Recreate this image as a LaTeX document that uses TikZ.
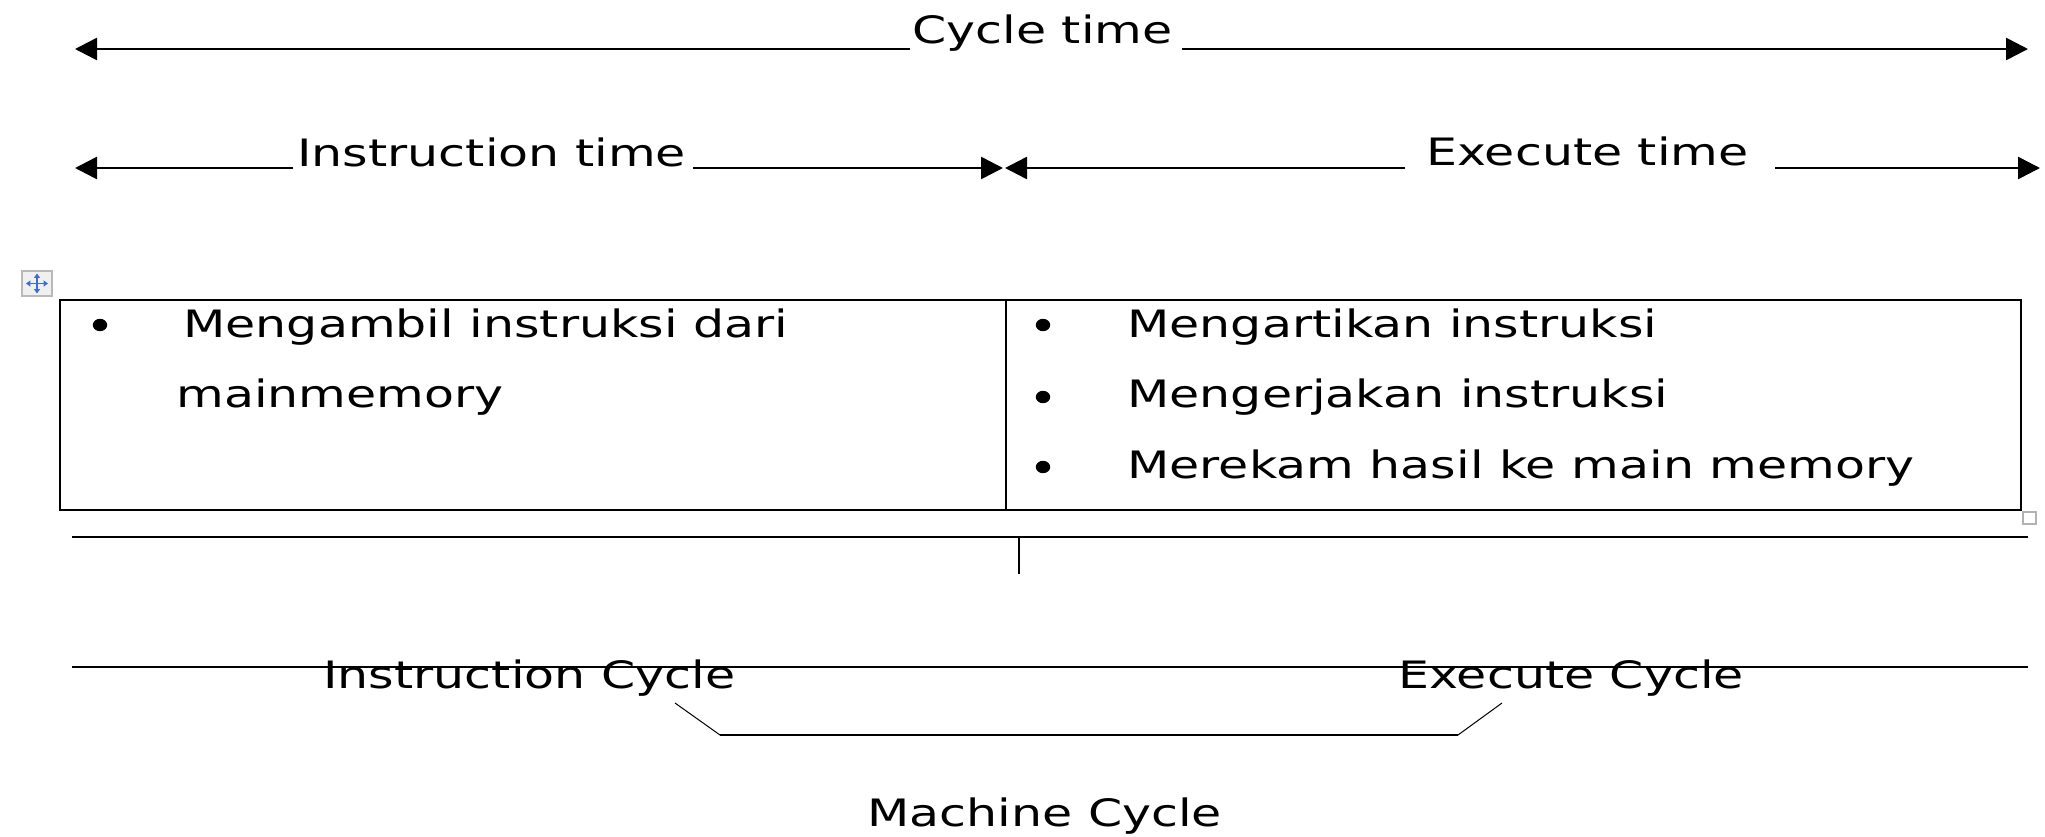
\documentclass[tikz,border=0pt]{standalone}
\usepackage{fontspec}
\setmainfont{DejaVu Sans}
\usetikzlibrary{arrows.meta}
\newcommand{\sqz}[1]{\scalebox{1}[0.77]{#1}}
\definecolor{iconblue}{RGB}{60,110,210}
\begin{document}
\begin{tikzpicture}[x=0.5pt,y=-0.5pt,
  txt/.style={anchor=base west,inner sep=0pt,font=\fontsize{24.5}{29}\selectfont},
  arr/.style={line width=1.3pt,-{Triangle[length=11pt,width=11pt]}},
  rulel/.style={line width=1.2pt},
  frame/.style={line width=1pt},
  dot/.style={fill=black,draw=none}
]
\useasboundingbox (0,0) rectangle (2045,836);

% --- Cycle time ---
\node[txt] (ct) at (912,43) {\sqz{Cycle time}};
\coordinate (ctL) at (75,49);
\coordinate (ctA) at (910,49);
\coordinate (ctB) at (1182,49);
\coordinate (ctR) at (2028,49);
\draw[arr] (ctA) -- (ctL);
\draw[arr] (ctB) -- (ctR);

% --- Instruction time ---
\node[txt] (it) at (297,166) {\sqz{Instruction time}};
\coordinate (itL) at (75,168);
\coordinate (itA) at (293,168);
\coordinate (itB) at (693,168);
\coordinate (itR) at (1003,168);
\draw[arr] (itA) -- (itL);
\draw[arr] (itB) -- (itR);

% --- Execute time ---
\node[txt] (et) at (1426,165) {\sqz{Execute time}};
\coordinate (etL) at (1005,168);
\coordinate (etA) at (1405,168);
\coordinate (etB) at (1775,168);
\coordinate (etR) at (2040,168);
\draw[arr] (etA) -- (etL);
\draw[arr] (etB) -- (etR);

% --- move icon ---
\draw[gray!55,fill=gray!12,line width=0.6pt] (22,271) rectangle (52,296);
\coordinate (ic) at (37,283.5);
\draw[iconblue,line width=0.8pt,{Triangle[length=2.2pt,width=3pt]}-{Triangle[length=2.2pt,width=3pt]}] (26,283.5) -- (48,283.5);
\draw[iconblue,line width=0.8pt,{Triangle[length=2.2pt,width=3pt]}-{Triangle[length=2.2pt,width=3pt]}] (37,273.5) -- (37,293.5);

% --- table ---
\coordinate (tTL) at (60,300);
\coordinate (tBR) at (2021,510);
\coordinate (dT) at (1006,300);
\coordinate (dB) at (1006,510);
\draw[frame] (tTL) rectangle (tBR);
\draw[frame] (dT) -- (dB);

\fill[dot] (100,325) ellipse [x radius=3.6pt, y radius=3.1pt];
\node[txt] (l1) at (183,337) {\sqz{Mengambil instruksi dari}};
\node[txt] (l2) at (176,407) {\sqz{mainmemory}};

\fill[dot] (1043,325) ellipse [x radius=3.6pt, y radius=3.1pt];
\fill[dot] (1043,397) ellipse [x radius=3.6pt, y radius=3.1pt];
\fill[dot] (1043,467) ellipse [x radius=3.6pt, y radius=3.1pt];
\node[txt] (r1) at (1127,337) {\sqz{Mengartikan instruksi}};
\node[txt] (r2) at (1127,407) {\sqz{Mengerjakan instruksi}};
\node[txt] (r3) at (1127,478) {\sqz{Merekam hasil ke main memory}};

% resize handle
\draw[gray!60,line width=0.7pt] (2023,512) rectangle (2036,524);

% --- lower rules ---
\coordinate (h1L) at (72,537);
\coordinate (h1R) at (2028,537);
\coordinate (tk) at (1019,537);
\coordinate (tkB) at (1019,574);
\draw[rulel] (h1L) -- (h1R);
\draw[line width=1pt] (tk) -- (tkB);

\coordinate (h2L) at (72,667);
\coordinate (h2R) at (2028,667);
\draw[rulel] (h2L) -- (h2R);

\node[txt] (ic1) at (323,688) {\sqz{Instruction Cycle}};
\node[txt] (ec1) at (1398,688) {\sqz{Execute Cycle}};

% bracket
\coordinate (b1) at (675,703);
\coordinate (b2) at (720,735);
\coordinate (b3) at (1458,735);
\coordinate (b4) at (1502,703);
\draw[line width=0.5pt] (b1) -- (b2);
\draw[line width=1.2pt] (b2) -- (b3);
\draw[line width=0.5pt] (b3) -- (b4);

\node[txt] (mc) at (867,826) {\sqz{Machine Cycle}};
\end{tikzpicture}
\end{document}
